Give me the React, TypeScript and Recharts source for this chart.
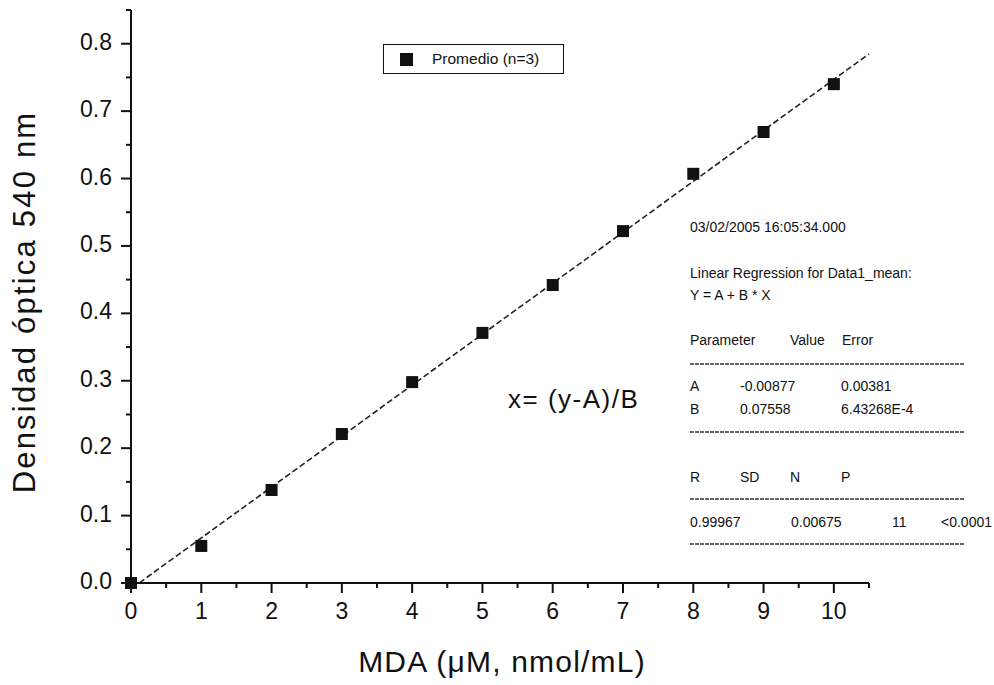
import React from 'react';
import { ComposedChart, Line, Scatter, XAxis, YAxis, Legend } from 'recharts';

// ---- data ----
const concentrations = [0, 1, 2, 3, 4, 5, 6, 7, 8, 9, 10];
const absorbance = [0.0, 0.055, 0.138, 0.221, 0.298, 0.371, 0.442, 0.522, 0.607, 0.669, 0.74];
const fitX = [0.12, 10.5];
const fitY = [0.0003, 0.7848];
const xMajorTicks = [0, 1, 2, 3, 4, 5, 6, 7, 8, 9, 10];
const xMinorTicks = [0.5, 1.5, 2.5, 3.5, 4.5, 5.5, 6.5, 7.5, 8.5, 9.5, 10.5];
const yMajorTicks = [0, 0.1, 0.2, 0.3, 0.4, 0.5, 0.6, 0.7, 0.8];
const yMinorTicks = [0.05, 0.15, 0.25, 0.35, 0.45, 0.55, 0.65, 0.75, 0.85];
const seriesName = 'Promedio (n=3)';
const xTitle = 'MDA (\u03bcM, nmol/mL)';
const yTitle = 'Densidad óptica 540 nm';
const formulaText = 'x= (y-A)/B';
const regDate = '03/02/2005 16:05:34.000';
const regTitle = 'Linear Regression for Data1_mean:';
const regModel = 'Y = A + B * X';
const paramHeader = ['Parameter', 'Value', 'Error'];
const paramRows = [
  ['A', '-0.00877', '0.00381'],
  ['B', '0.07558', '6.43268E-4'],
];
const statHeader = ['R', 'SD', 'N', 'P'];
const statValues = ['0.99967', '0.00675', '11', '<0.0001'];

const points = concentrations.map((x, i) => ({ x, y: absorbance[i] }));
const fitData = fitX.map((x, i) => ({ x, y: fitY[i] }));
const xTicks = [...xMajorTicks, ...xMinorTicks].sort((a, b) => a - b);
const yTicks = [...yMajorTicks, ...yMinorTicks].sort((a, b) => a - b);

const FONT = '"Liberation Sans", Arial, Helvetica, sans-serif';
const INK = '#111';

const isIn = (arr: number[], v: number) => arr.some((a) => Math.abs(a - v) < 1e-6);

const XTick = (props: any) => {
  const { x, y, payload } = props;
  const major = isIn(xMajorTicks, payload.value);
  return (
    <g>
      <line x1={x} x2={x} y1={y} y2={y + (major ? 10 : 5)} stroke={INK} strokeWidth={2} />
      {major && (
        <text x={x} y={y + 36} textAnchor="middle" fontSize={23} fontFamily={FONT} fill={INK}>
          {String(payload.value)}
        </text>
      )}
    </g>
  );
};

const YTick = (props: any) => {
  const { x, y, payload } = props;
  const major = isIn(yMajorTicks, payload.value);
  return (
    <g>
      <line x1={x} x2={x - (major ? 10 : 5)} y1={y} y2={y} stroke={INK} strokeWidth={2} />
      {major && (
        <text x={x - 19} y={y + 6} textAnchor="end" fontSize={23} fontFamily={FONT} fill={INK}>
          {Number(payload.value).toFixed(1)}
        </text>
      )}
    </g>
  );
};

const Square = (props: any) => {
  const { cx, cy } = props;
  return <rect x={cx - 6} y={cy - 6} width={12} height={12} fill={INK} />;
};

const LegendBox = () => (
  <div
    style={{
      width: 181,
      height: 30,
      boxSizing: 'border-box',
      border: `1.5px solid ${INK}`,
      position: 'relative',
      fontFamily: FONT,
      background: '#fff',
    }}
  >
    <div style={{ position: 'absolute', left: 16, top: 8, width: 13, height: 13, background: INK }} />
    <div style={{ position: 'absolute', left: 48, top: 5, fontSize: 15.5, color: INK, lineHeight: '18px' }}>
      {seriesName}
    </div>
  </div>
);

const Divider = ({ y }: { y: number }) => (
  <line x1={690} x2={965} y1={y} y2={y} stroke="#333" strokeWidth={1.5} strokeDasharray="4 1" />
);

const T = ({ x, y, children, size = 14 }: any) => (
  <text x={x} y={y} fontSize={size} fontFamily={FONT} fill={INK} dominantBaseline="central">
    {children}
  </text>
);

export default function App() {
  const paramCols = [690, 790, 842];
  const rowCols = [690, 740, 841];
  const statCols = [690, 740, 790, 841];
  const valueCols = [690, 791, 892, 941];
  return (
    <div style={{ position: 'absolute', left: 0, top: 0, width: 994, height: 685, background: '#fff' }}>
      <ComposedChart
        width={994}
        height={685}
        margin={{ top: 10, right: 125, bottom: 100, left: 130 }}
        style={{ fontFamily: FONT }}
      >
        <XAxis
          dataKey="x"
          type="number"
          domain={[0, 10.5]}
          ticks={xTicks}
          interval={0}
          height={2}
          tickSize={0}
          tickMargin={0}
          tickLine={false}
          axisLine={{ stroke: INK, strokeWidth: 2 }}
          tick={(p: any) => <XTick {...p} />}
        />
        <YAxis
          dataKey="y"
          type="number"
          domain={[0, 0.85]}
          ticks={yTicks}
          interval={0}
          width={1}
          tickSize={0}
          tickMargin={0}
          tickLine={false}
          axisLine={{ stroke: INK, strokeWidth: 2 }}
          tick={(p: any) => <YTick {...p} />}
        />
        <Line
          data={fitData}
          dataKey="y"
          type="linear"
          stroke="#222"
          strokeWidth={1.6}
          strokeDasharray="6 3"
          dot={false}
          activeDot={false}
          legendType="none"
          isAnimationActive={false}
        />
        <Scatter
          data={points}
          dataKey="y"
          name={seriesName}
          fill={INK}
          shape={Square}
          isAnimationActive={false}
        />
        <Legend
          layout="horizontal"
          verticalAlign="middle"
          align="center"
          wrapperStyle={{ left: 383, top: 44, width: 181, height: 30 }}
          content={() => <LegendBox />}
        />
      </ComposedChart>
      <svg
        width={994}
        height={685}
        style={{ position: 'absolute', left: 0, top: 0, pointerEvents: 'none' }}
      >
        <text
          x={502}
          y={672}
          textAnchor="middle"
          fontSize={30}
          letterSpacing={1.2}
          fontFamily={FONT}
          fill={INK}
        >
          {xTitle}
        </text>
        <text
          x={35}
          y={302}
          textAnchor="middle"
          fontSize={31}
          letterSpacing={2.2}
          fontFamily={FONT}
          fill={INK}
          transform="rotate(-90, 35, 302)"
        >
          {yTitle}
        </text>
        <text x={508} y={408} fontSize={26} letterSpacing={1.5} fontFamily={FONT} fill={INK}>
          {formulaText}
        </text>
        <T x={690} y={227}>{regDate}</T>
        <T x={690} y={273}>{regTitle}</T>
        <T x={690} y={295}>{regModel}</T>
        {paramHeader.map((s, i) => (
          <T key={'ph' + i} x={paramCols[i]} y={340}>{s}</T>
        ))}
        <Divider y={364} />
        {paramRows.map((row, r) =>
          row.map((s, i) => (
            <T key={'pr' + r + i} x={rowCols[i]} y={386 + r * 23}>{s}</T>
          ))
        )}
        <Divider y={432} />
        {statHeader.map((s, i) => (
          <T key={'sh' + i} x={statCols[i]} y={477}>{s}</T>
        ))}
        <Divider y={499} />
        {statValues.map((s, i) => (
          <T key={'sv' + i} x={valueCols[i]} y={522}>{s}</T>
        ))}
        <Divider y={544} />
      </svg>
    </div>
  );
}
